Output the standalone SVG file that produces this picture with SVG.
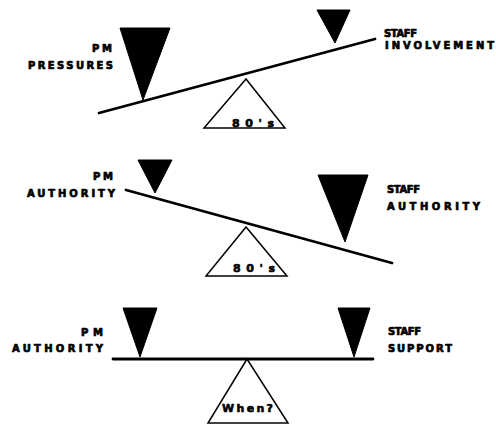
<svg xmlns="http://www.w3.org/2000/svg" width="496" height="425" viewBox="0 0 496 425">
<style>
.lbl{font-family:"DejaVu Sans","Liberation Sans",Arial,sans-serif;font-weight:bold;font-size:10px;fill:#000;stroke:#000;stroke-width:0.7;stroke-linejoin:round}
.ful{font-family:"DejaVu Sans","Liberation Sans",Arial,sans-serif;font-weight:bold;font-size:11px;fill:#000;stroke:#000;stroke-width:0.6;stroke-linejoin:round}
.wt{fill:#000;stroke:#000;stroke-width:1;stroke-linejoin:round}
.beam{stroke:#000;stroke-width:2.8;fill:none;stroke-linecap:round}
.fulcrum{fill:#fff;stroke:#000;stroke-width:1.5;stroke-linejoin:miter}
</style>
<rect width="496" height="425" fill="#fff"/>
<g id="panel1">
  <g id="p1-beam"><line class="beam" x1="99" y1="113" x2="375" y2="39"/></g>
  <g id="p1-fulcrum"><polygon class="fulcrum" points="246,79 204,128 285,128"/>
    <text class="ful" x="232" y="127" textLength="42" lengthAdjust="spacing">80's</text></g>
  <g id="p1-left-weight"><polygon class="wt" points="120,28 170,28 143,100"/></g>
  <g id="p1-right-weight"><polygon class="wt" points="317,10 350,10 335,43"/></g>
  <g id="p1-left-label"><text class="lbl" x="92" y="52" textLength="20" lengthAdjust="spacing">PM</text>
    <text class="lbl" x="28" y="69" textLength="85" lengthAdjust="spacing">PRESSURES</text></g>
  <g id="p1-right-label"><text class="lbl" x="384" y="37" textLength="33" lengthAdjust="spacing">STAFF</text>
    <text class="lbl" x="385" y="49" textLength="109" lengthAdjust="spacing">INVOLVEMENT</text></g>
</g>
<g id="panel2">
  <g id="p2-beam"><line class="beam" x1="126" y1="190" x2="392" y2="263"/></g>
  <g id="p2-fulcrum"><polygon class="fulcrum" points="246,227 206,276 287,276"/>
    <text class="ful" x="233" y="272" textLength="42" lengthAdjust="spacing">80's</text></g>
  <g id="p2-left-weight"><polygon class="wt" points="138,160 172,160 155,193"/></g>
  <g id="p2-right-weight"><polygon class="wt" points="318,175 368,175 345,242"/></g>
  <g id="p2-left-label"><text class="lbl" x="93" y="180" textLength="20" lengthAdjust="spacing">PM</text>
    <text class="lbl" x="27" y="197" textLength="88" lengthAdjust="spacing">AUTHORITY</text></g>
  <g id="p2-right-label"><text class="lbl" x="387" y="193" textLength="33" lengthAdjust="spacing">STAFF</text>
    <text class="lbl" x="387" y="210" textLength="93" lengthAdjust="spacing">AUTHORITY</text></g>
</g>
<g id="panel3">
  <g id="p3-beam"><line class="beam" x1="113" y1="359" x2="373" y2="359"/></g>
  <g id="p3-fulcrum"><polygon class="fulcrum" points="247,359 208,423 288,423"/>
    <text class="ful" x="222" y="412" textLength="51" lengthAdjust="spacing">When?</text></g>
  <g id="p3-left-weight"><polygon class="wt" points="123,308 157,308 140,357"/></g>
  <g id="p3-right-weight"><polygon class="wt" points="338,308 370,308 354,357"/></g>
  <g id="p3-left-label"><text class="lbl" x="81" y="336" textLength="22" lengthAdjust="spacing">PM</text>
    <text class="lbl" x="12" y="352" textLength="91" lengthAdjust="spacing">AUTHORITY</text></g>
  <g id="p3-right-label"><text class="lbl" x="388" y="335" textLength="33" lengthAdjust="spacing">STAFF</text>
    <text class="lbl" x="388" y="352" textLength="64" lengthAdjust="spacing">SUPPORT</text></g>
</g>
</svg>
